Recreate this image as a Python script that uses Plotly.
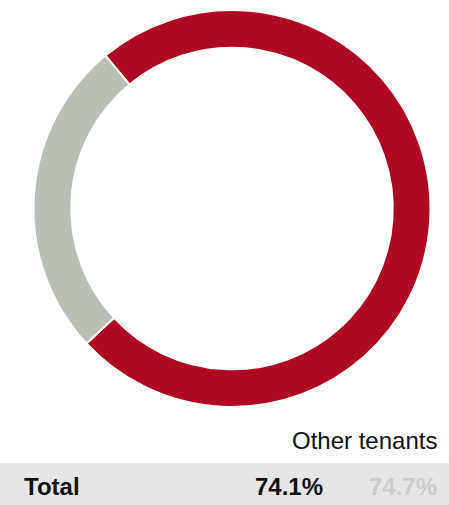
import plotly.graph_objects as go

# Share of total by tenant group
labels = ["Other tenants", "Remaining"]
values = [74.1, 25.9]
colors = ["#AF0822", "#B8BFB5"]

# Summary row
row_label = "Total"
row_current = "74.1%"
row_previous = "74.7%"
column_header = "Other tenants"

W, H = 449, 505

fig = go.Figure()
fig.add_trace(go.Pie(
    labels=labels,
    values=values,
    hole=0.81,
    sort=False,
    direction="clockwise",
    rotation=-39.6,
    marker=dict(colors=colors, line=dict(color="white", width=2)),
    textinfo="none",
    hoverinfo="label+percent",
    showlegend=False,
    domain=dict(x=[33 / W, 431 / W], y=[1 - 407 / H, 1 - 10 / H]),
))

# Grey summary band
fig.add_shape(type="rect", xref="paper", yref="paper",
              x0=0, x1=1, y0=0, y1=1 - 463 / H,
              fillcolor="#E6E6E6", line=dict(width=0), layer="below")

font = "Liberation Sans, Arial, sans-serif"
fig.add_annotation(x=439 / W, y=1 - 440 / H, xref="paper", yref="paper",
                   text=column_header, showarrow=False, xanchor="right", yanchor="middle",
                   font=dict(family=font, size=24, color="#111111"))
fig.add_annotation(x=22 / W, y=1 - 486 / H, xref="paper", yref="paper",
                   text="<b>" + row_label + "</b>", showarrow=False, xanchor="left", yanchor="middle",
                   font=dict(family=font, size=24, color="#111111"))
fig.add_annotation(x=325 / W, y=1 - 486 / H, xref="paper", yref="paper",
                   text="<b>" + row_current + "</b>", showarrow=False, xanchor="right", yanchor="middle",
                   font=dict(family=font, size=24, color="#111111"))
fig.add_annotation(x=439 / W, y=1 - 486 / H, xref="paper", yref="paper",
                   text="<b>" + row_previous + "</b>", showarrow=False, xanchor="right", yanchor="middle",
                   font=dict(family=font, size=24, color="#CCCCCC"))

fig.update_layout(width=W, height=H, margin=dict(l=0, r=0, t=0, b=0),
                  paper_bgcolor="white", plot_bgcolor="white")

fig.write_html("out.html")
